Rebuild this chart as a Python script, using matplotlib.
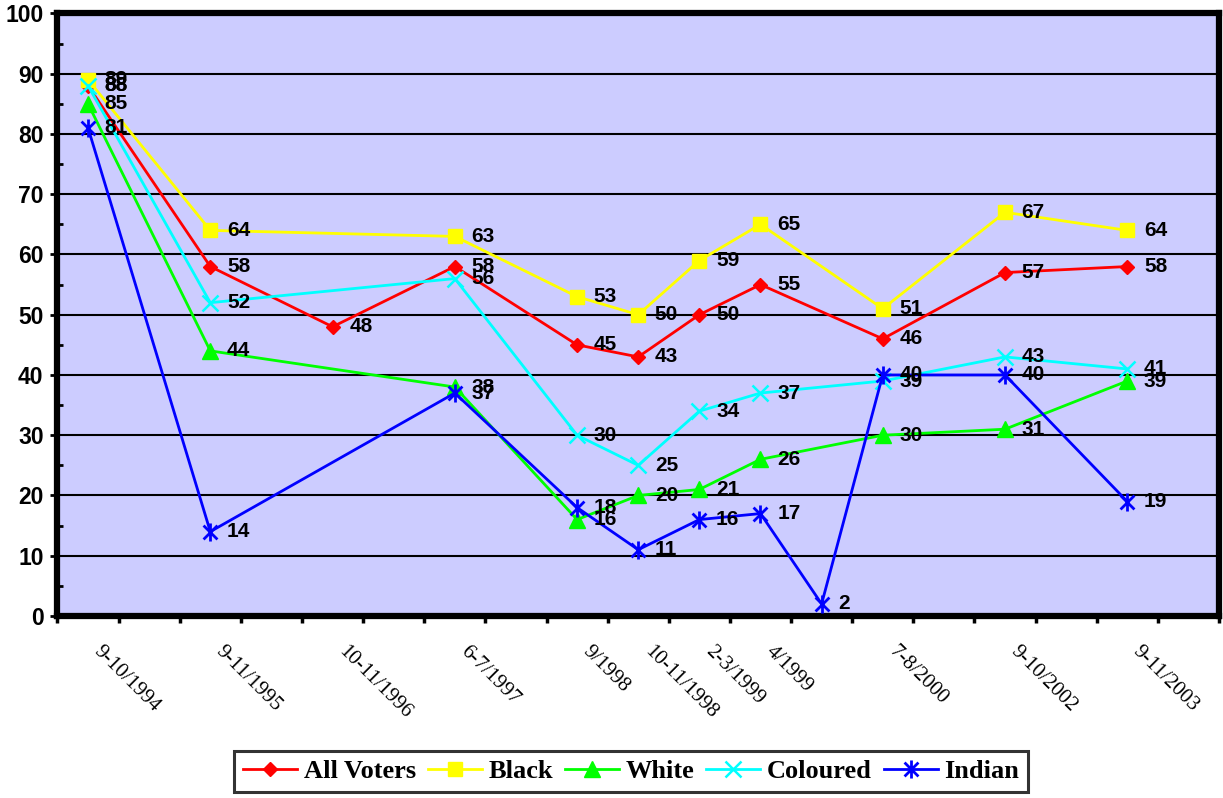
import numpy as np
import matplotlib
matplotlib.use("Agg")
import matplotlib.pyplot as plt
from matplotlib.path import Path

# Survey rounds and where they sit on the 19-slot category axis
n_slots = 19
survey_slots = [0, 2, 4, 6, 8, 9, 10, 11, 12, 13, 15, 17]
survey_labels = ["9-10/1994", "9-11/1995", "10-11/1996", "6-7/1997", "9/1998",
                 "10-11/1998", "2-3/1999", "4/1999", "", "7-8/2000",
                 "9-10/2002", "9-11/2003"]

# Percentages per group (None = not surveyed)
all_voters = [88, 58, 48, 58, 45, 43, 50, 55, None, 46, 57, 58]
black = [89, 64, None, 63, 53, 50, 59, 65, None, 51, 67, 64]
white = [85, 44, None, 38, 16, 20, 21, 26, None, 30, 31, 39]
coloured = [88, 52, None, 56, 30, 25, 34, 37, None, 39, 43, 41]
indian = [81, 14, None, 37, 18, 11, 16, 17, 2, 40, 40, 19]

# Excel-style asterisk marker: an x with a vertical stroke
ast_verts = [(-1, -1), (1, 1), (-1, 1), (1, -1), (0, -1.3), (0, 1.3)]
ast_codes = [Path.MOVETO, Path.LINETO] * 3
asterisk = Path(ast_verts, ast_codes)

series = [
    ("All Voters", all_voters, "#FF0000", "D", 7.5, 1, True),
    ("Black", black, "#FFFF00", "s", 10.5, 1, True),
    ("White", white, "#00FF00", "^", 11, 1, True),
    ("Coloured", coloured, "#00FFFF", "x", 11, 1.8, False),
    ("Indian", indian, "#0000FF", asterisk, 13, 2.0, False),
]

fig = plt.figure(figsize=(12.23, 7.98), dpi=100)
ax = fig.add_axes([0.047, 0.2281, 0.9497, 0.755])
ax.set_facecolor("#CCCCFF")

handles = []
for name, vals, color, marker, ms, mew, filled in series:
    xs = [s for s, v in zip(survey_slots, vals) if v is not None]
    ys = [v for v in vals if v is not None]
    kw = dict(color=color, lw=2, marker=marker, ms=ms, mec=color, mew=mew, zorder=3)
    if filled:
        kw["mfc"] = color
    line, = ax.plot(xs, ys, **kw)
    handles.append(line)
    for x, y in zip(xs, ys):
        ax.annotate(f"{y}", xy=(x, y), xytext=(12, 0), textcoords="offset points",
                    ha="left", va="center", fontsize=15, fontweight="bold",
                    family="Liberation Sans", color="black", zorder=6)

# Axes limits and grid
ax.set_xlim(-0.5, n_slots - 0.5)
ax.set_ylim(0, 100)
ax.set_yticks(np.arange(0, 101, 10))
ax.set_yticks(np.arange(5, 100, 10), minor=True)
for yv in range(10, 100, 10):
    ax.axhline(yv, color="black", lw=1.5, zorder=1)

for sp in ax.spines.values():
    sp.set_linewidth(4.5)
    sp.set_color("black")

ax.tick_params(axis="y", which="major", direction="out", length=5, width=2,
               pad=5, labelsize=16.5)
ax.tick_params(axis="y", which="minor", direction="in", length=4, width=2)
for lab in ax.get_yticklabels():
    lab.set_fontweight("bold")
    lab.set_family("Liberation Sans")

# Category boundaries get tick marks; labels are placed separately
ax.set_xticks(np.arange(-0.5, n_slots, 1.0))
ax.set_xticklabels([])
ax.tick_params(axis="x", which="major", direction="out", length=5, width=2.5)
for s, lab in zip(survey_slots, survey_labels):
    if lab:
        ax.annotate(lab, xy=(s, 0), xycoords=("data", "axes fraction"),
                    xytext=(4, -26), textcoords="offset points",
                    rotation=-45, rotation_mode="anchor", ha="left",
                    va="baseline", fontsize=15, family="Liberation Serif",
                    color="black", annotation_clip=False)

leg = fig.legend(handles, [s[0] for s in series], loc="center",
                 bbox_to_anchor=(0.516, 0.0335), ncol=5, frameon=True,
                 fancybox=False, handlelength=2.05, handletextpad=0.25,
                 columnspacing=0.45, borderpad=0.33, borderaxespad=0.2,
                 prop={"family": "Liberation Serif", "weight": "bold", "size": 19})
leg.get_frame().set_edgecolor("black")
leg.get_frame().set_linewidth(2.2)

fig.savefig("out.png", dpi=100)
